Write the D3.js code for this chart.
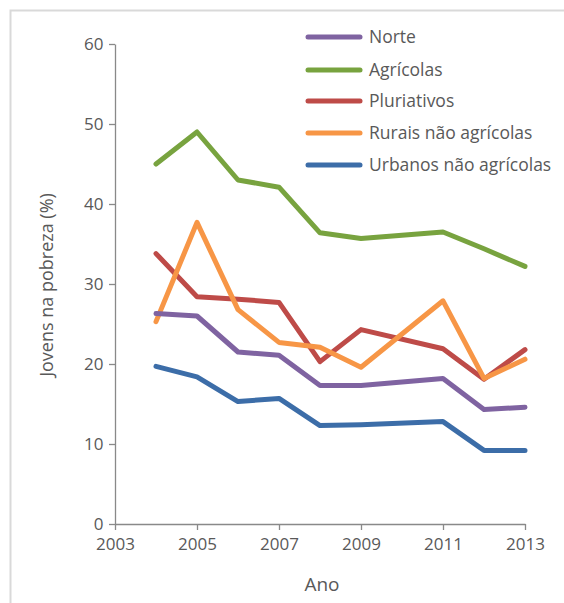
<!DOCTYPE html>
<html><head><meta charset="utf-8">
<script src="https://cdn.jsdelivr.net/npm/d3@7"></script>
<style>body{margin:0;background:#fff}svg{display:block}</style>
</head><body>
<script>
const years = [2004, 2005, 2006, 2007, 2008, 2009, 2011, 2012, 2013];
const seriesNames = ["Norte", "Agrícolas", "Pluriativos", "Rurais não agrícolas", "Urbanos não agrícolas"];
const norte = [26.3, 26.0, 21.5, 21.1, 17.3, 17.3, 18.2, 14.3, 14.6];
const agricolas = [45.0, 49.0, 43.0, 42.1, 36.4, 35.7, 36.5, 34.4, 32.2];
const pluriativos = [33.8, 28.4, 28.1, 27.7, 20.3, 24.3, 21.9, 18.1, 21.8];
const rurais = [25.3, 37.7, 26.8, 22.7, 22.1, 19.6, 27.9, 18.2, 20.6];
const urbanos = [19.7, 18.4, 15.3, 15.7, 12.3, 12.4, 12.8, 9.2, 9.2];
const xTicks = [2003, 2005, 2007, 2009, 2011, 2013];
const yTicks = [0, 10, 20, 30, 40, 50, 60];
const colors = ["#7F63A1", "#78A33F", "#BE4B48", "#F79646", "#3C6DA8"];
const allValues = [norte, agricolas, pluriativos, rurais, urbanos];

const W = 564, H = 603;
const svg = d3.select("body").append("svg").attr("width", W).attr("height", H);
svg.append("rect").attr("x", 0).attr("y", 0).attr("width", W).attr("height", H).attr("fill", "#fff");
svg.append("path").attr("d", "M10.5,603 V10.5 H564").attr("fill", "none").attr("stroke", "#d9d9d9").attr("stroke-width", 2);

const x = d3.scaleLinear().domain([2003, 2013]).range([115, 525]);
const y = d3.scaleLinear().domain([0, 60]).range([524, 44]);

const font = "'Open Sans', 'Liberation Sans', Arial, sans-serif";
const textColor = "#595959";

const gx = svg.append("g").attr("transform", "translate(0,524)")
  .call(d3.axisBottom(x).tickValues(xTicks).tickFormat(d3.format("d")).tickSize(6).tickSizeOuter(0));
const gy = svg.append("g").attr("transform", "translate(115,0)")
  .call(d3.axisLeft(y).tickValues(yTicks).tickSize(6).tickSizeOuter(0));
[gx, gy].forEach(g => {
  g.select(".domain").attr("stroke", "#898989").attr("stroke-width", 1.3);
  g.selectAll(".tick line").attr("stroke", "#898989").attr("stroke-width", 1.3);
  g.selectAll("text").attr("fill", textColor).style("font-family", font).style("font-size", "17px");
});
gx.selectAll("text").attr("dy", "1.0em");
gy.selectAll("text").attr("dx", "-0.15em");

svg.append("text").attr("x", 322).attr("y", 591).attr("text-anchor", "middle")
  .attr("fill", textColor).style("font-family", font).style("font-size", "19px").text("Ano");
svg.append("text").attr("transform", "translate(53,285) rotate(-90)").attr("text-anchor", "middle")
  .attr("fill", textColor).style("font-family", font).style("font-size", "18px").text("Jovens na pobreza (%)");

const line = d3.line().x((d, i) => x(years[i])).y(d => y(d));
const order = [1, 2, 3, 0, 4];
order.forEach(k => {
  svg.append("path").datum(allValues[k]).attr("d", line)
    .attr("fill", "none").attr("stroke", colors[k]).attr("stroke-width", 5)
    .attr("stroke-linejoin", "round").attr("stroke-linecap", "round");
});

const legY = [37, 70, 101, 133, 165];
seriesNames.forEach((n, i) => {
  svg.append("line").attr("x1", 308).attr("x2", 360).attr("y1", legY[i]).attr("y2", legY[i])
    .attr("stroke", colors[i]).attr("stroke-width", 5).attr("stroke-linecap", "round");
  svg.append("text").attr("x", 369).attr("y", legY[i]).attr("dy", "0.35em")
    .attr("fill", textColor).style("font-family", font).style("font-size", "17.5px").text(n);
});
</script>
</body></html>
